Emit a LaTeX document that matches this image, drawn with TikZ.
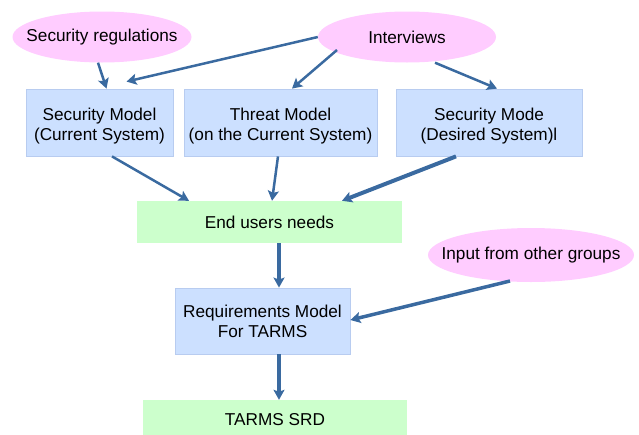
\documentclass[tikz,border=0pt]{standalone}
\usepackage{fontspec}
\setmainfont{Liberation Sans}
\usetikzlibrary{shapes.geometric,arrows.meta}
\definecolor{pinkfill}{RGB}{255,204,255}
\definecolor{bluefill}{RGB}{204,224,255}
\definecolor{blueline}{RGB}{184,204,240}
\definecolor{greenfill}{RGB}{204,255,204}
\definecolor{arrowcol}{RGB}{58,106,160}
\tikzset{
  txt/.style={font=\fontsize{17.2}{20}\selectfont},
  cloud/.style={ellipse, fill=pinkfill, inner sep=0pt, label distance=0pt, label={[txt]center:#1}},
  bluebox/.style={rectangle, fill=bluefill, draw=blueline, line width=0.8pt, inner sep=0pt, align=center, txt},
  topbox/.style={rectangle, fill=bluefill, draw=blueline, line width=0.8pt, inner sep=0pt, minimum height=67pt, label={[txt,align=center,yshift=-4pt]center:#1}},
  greenbox/.style={rectangle, fill=greenfill, inner sep=0pt, txt},
  conn/.style={draw=arrowcol, line width=2.5pt, -{Stealth[length=10pt,width=11pt,inset=2pt]}},
  thickconn/.style={conn, line width=4pt}
}
\begin{document}
\begin{tikzpicture}[x=1pt,y=-1pt]
\useasboundingbox (0,0) rectangle (639,434);
\clip (0,0) rectangle (639,434);
\node[cloud={Security regulations}, minimum width=179pt, minimum height=51pt] (secreg) at (102,37) {};
\node[cloud={Interviews}, minimum width=178pt, minimum height=51pt] (interv) at (407,37) {};
\node[cloud={Input from other groups}, minimum width=206pt, minimum height=54pt] (input) at (531,255) {};
\node[topbox={Security Model\\(Current System)}, minimum width=147pt] (secmodel) at (99.5,122.5) {};
\node[topbox={Threat Model\\(on the Current System)}, minimum width=193pt] (threat) at (280.5,122.5) {};
\node[topbox={Security Mode\\(Desired System)l}, minimum width=186pt] (secmode) at (489,122.5) {};
\node[greenbox, minimum width=265pt, minimum height=42pt] (endusers) at (269.5,222) {End users needs};
\node[bluebox, minimum width=175pt, minimum height=66pt] (reqmodel) at (262.5,321) {Requirements Model\\For TARMS};
\node[greenbox, minimum width=264pt, minimum height=40pt] (srd) at (275,420) {TARMS SRD};

\draw[conn] ([xshift=-4pt]secreg.south) -- ([xshift=7pt]secmodel.north);
\draw[conn] (interv.west) -- ([xshift=27pt,yshift=7pt]secmodel.north);
\draw[conn] ([xshift=-70pt,yshift=-13pt]interv.center) -- ([xshift=11.5pt]threat.north);
\draw[conn] ([xshift=28pt]interv.south) -- ([xshift=8pt]secmode.north);
\draw[conn] ([xshift=12.5pt]secmodel.south) -- ([xshift=-80.5pt]endusers.north);
\draw[conn] ([xshift=-2.5pt]threat.south) -- ([xshift=2.5pt]endusers.north);
\draw[thickconn] ([xshift=-33pt]secmode.south) -- ([xshift=72.5pt]endusers.north);
\draw[thickconn] ([xshift=9.5pt]endusers.south) -- ([xshift=16.5pt]reqmodel.north);
\draw[conn, line width=3.5pt] ([xshift=-21pt,yshift=-26pt]input.center) -- ([yshift=1pt]reqmodel.east);
\draw[thickconn] ([xshift=16.5pt]reqmodel.south) -- ([xshift=4pt]srd.north);
\end{tikzpicture}
\end{document}
